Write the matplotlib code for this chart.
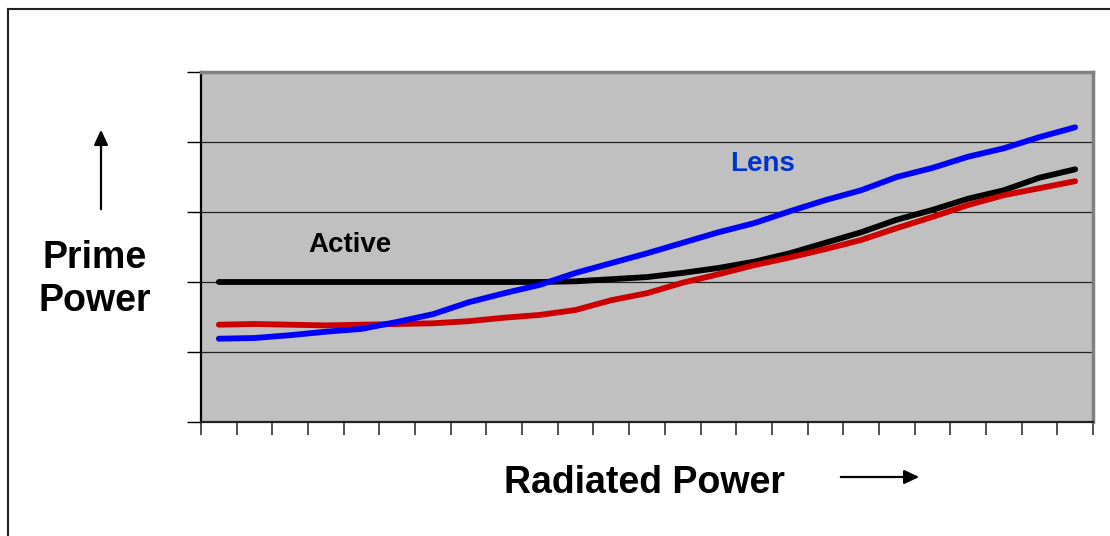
import matplotlib
matplotlib.use("Agg")
import matplotlib.pyplot as plt
from matplotlib.lines import Line2D
from matplotlib.patches import FancyArrowPatch
import numpy as np

plt.rcParams['font.family'] = ['Liberation Sans', 'DejaVu Sans']

n_categories = 25
active = [2.0, 2.0, 2.0, 2.0, 2.0, 2.0, 2.0, 2.0, 2.0, 2.0, 2.01, 2.04, 2.07, 2.13,
          2.20, 2.29, 2.41, 2.56, 2.71, 2.89, 3.03, 3.19, 3.31, 3.49, 3.61]
lens = [1.19, 1.20, 1.24, 1.29, 1.33, 1.43, 1.54, 1.71, 1.84, 1.96, 2.13, 2.27, 2.41,
        2.56, 2.71, 2.84, 3.01, 3.17, 3.31, 3.50, 3.63, 3.79, 3.91, 4.07, 4.21]
red = [1.39, 1.40, 1.39, 1.38, 1.39, 1.40, 1.41, 1.44, 1.49, 1.53, 1.60, 1.74, 1.84,
       1.99, 2.11, 2.24, 2.35, 2.47, 2.60, 2.77, 2.93, 3.10, 3.24, 3.34, 3.44]

W, H = 1110, 536
fig = plt.figure(figsize=(W / 100, H / 100), dpi=100)
fig.patch.set_facecolor('white')

L, R, T, B = 201, 1093, 72, 422
ax = fig.add_axes([L / W, 1 - B / H, (R - L) / W, (B - T) / H])
ax.set_facecolor('#C0C0C0')

x = np.arange(n_categories) + 0.5
kw = dict(lw=4.2, solid_capstyle='round', solid_joinstyle='round')
ax.plot(x, active, color='black', zorder=3, **kw)
ax.plot(x, red, color='#CC0000', zorder=4, **kw)
ax.plot(x, lens, color='#0000FF', zorder=5, **kw)

ax.set_xlim(0, n_categories)
ax.set_ylim(0, 5)
ax.set_xticks(np.arange(n_categories + 1))
ax.set_yticks(np.arange(6))
ax.set_xticklabels([])
ax.set_yticklabels([])
ax.tick_params(axis='x', direction='out', length=9.5, width=1.2, color='#333333')
ax.tick_params(axis='y', direction='out', length=10, width=1.0, color='black')
for yv in range(1, 5):
    ax.axhline(yv, color='#222222', lw=0.9, zorder=1)

ax.spines['left'].set_color('black')
ax.spines['left'].set_linewidth(1.6)
ax.spines['bottom'].set_color('#222222')
ax.spines['bottom'].set_linewidth(1.6)
ax.spines['top'].set_color('#808080')
ax.spines['top'].set_linewidth(2.5)
ax.spines['right'].set_color('#808080')
ax.spines['right'].set_linewidth(2.5)


def fx(px):
    return px / W


def fy(py):
    return 1 - py / H


fig.text(fx(350), fy(245), 'Active', ha='center', va='center', fontsize=20, fontweight='bold', color='black')
fig.text(fx(763), fy(164), 'Lens', ha='center', va='center', fontsize=20, fontweight='bold', color='#0033CC')
fig.text(fx(95), fy(258), 'Prime', ha='center', va='center', fontsize=27, fontweight='bold', color='black')
fig.text(fx(95), fy(301), 'Power', ha='center', va='center', fontsize=27, fontweight='bold', color='black')
fig.text(fx(644), fy(483), 'Radiated Power', ha='center', va='center', fontsize=27, fontweight='bold',
         color='black')

fig.patches.append(FancyArrowPatch((fx(101), fy(212)), (fx(101), fy(127)),
                   transform=fig.transFigure, arrowstyle='-|>,head_length=6,head_width=2.8',
                   mutation_scale=1.5, lw=1.6, color='black'))
fig.patches.append(FancyArrowPatch((fx(838), fy(477)), (fx(922), fy(477)),
                   transform=fig.transFigure, arrowstyle='-|>,head_length=6,head_width=2.8',
                   mutation_scale=1.5, lw=1.6, color='black'))

fig.add_artist(Line2D([fx(7.5), fx(7.5)], [fy(9), fy(540)], transform=fig.transFigure, color='#222222', lw=1.5))
fig.add_artist(Line2D([fx(7.5), fx(1110)], [fy(9), fy(9)], transform=fig.transFigure, color='#222222', lw=1.5))

fig.savefig('out.png', dpi=100, facecolor='white')
